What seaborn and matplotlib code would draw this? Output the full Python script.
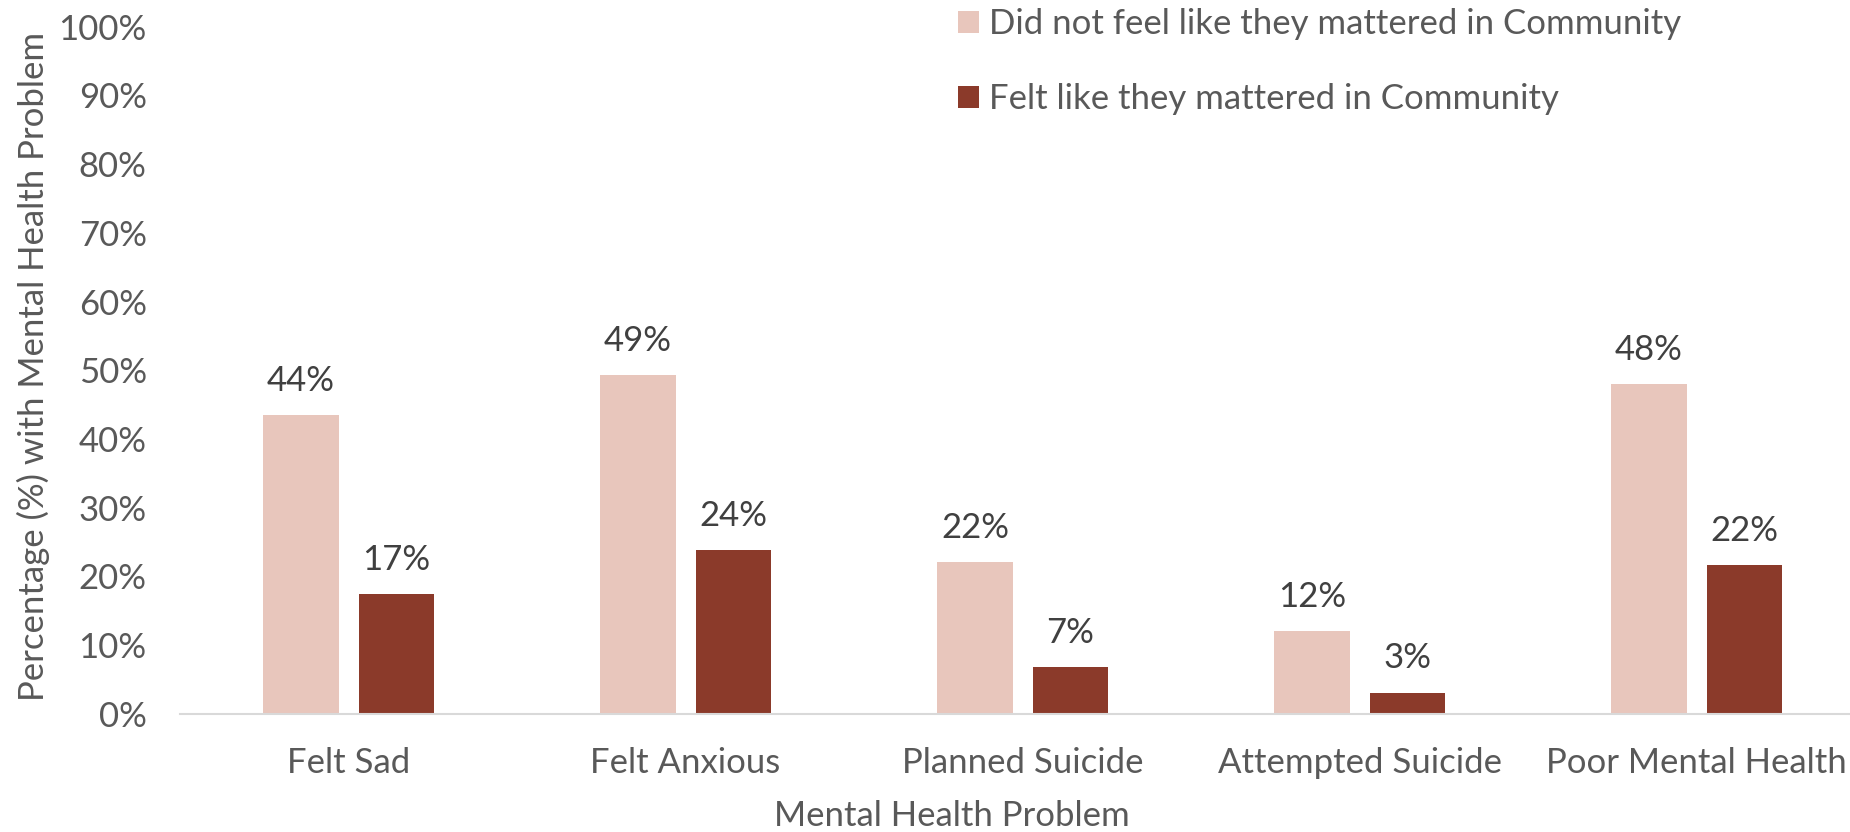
import matplotlib
matplotlib.use("Agg")
import matplotlib.pyplot as plt
import seaborn as sns
import pandas as pd
from matplotlib.patches import Patch

categories = ["Felt Sad", "Felt Anxious", "Planned Suicide", "Attempted Suicide", "Poor Mental Health"]
series_names = ["Did not feel like they mattered in Community", "Felt like they mattered in Community"]
not_mattered = [43.5, 49.3, 22.1, 12.1, 48.0]
mattered = [17.4, 23.9, 6.8, 3.1, 21.6]
labels_not = ["44%", "49%", "22%", "12%", "48%"]
labels_mat = ["17%", "24%", "7%", "3%", "22%"]
yticks = [0, 10, 20, 30, 40, 50, 60, 70, 80, 90, 100]
colors = ["#E8C6BC", "#8B3A2A"]

sns.set_theme(style="white")
plt.rcParams["font.family"] = ["Lato", "DejaVu Sans"]

df = pd.DataFrame({
    "cat": categories * 2,
    "series": [series_names[0]] * 5 + [series_names[1]] * 5,
    "val": not_mattered + mattered,
})

fig = plt.figure(figsize=(18.5, 8.32), dpi=100)
ax = fig.add_axes([0.0973, 0.142, 0.911, 0.826])
sns.barplot(data=df, x="cat", y="val", hue="series", order=categories,
            hue_order=series_names, palette=colors, width=0.567, gap=0.21,
            saturation=1, ax=ax, legend=False, edgecolor="none")

for cont, labs in zip(ax.containers, [labels_not, labels_mat]):
    ax.bar_label(cont, labels=labs, padding=13, fontsize=25, color="#404040")

ax.set_xlim(-0.5, 4.5)
ax.set_ylim(0, 100)
ax.set_yticks(yticks)
ax.set_yticklabels([f"{v}%" for v in yticks])
ax.tick_params(axis="y", length=0, pad=24, labelsize=25, labelcolor="#595959")
ax.tick_params(axis="x", length=0, pad=24, labelsize=25, labelcolor="#595959")
for s in ["top", "right", "left"]:
    ax.spines[s].set_visible(False)
ax.spines["bottom"].set_color("#D9D9D9")
ax.spines["bottom"].set_linewidth(1.5)

ax.set_xlabel("Mental Health Problem", fontsize=25, color="#595959")
ax.xaxis.set_label_coords(0.458, -0.125)
ax.set_ylabel("Percentage (%) with Mental Health Problem", fontsize=25, color="#595959")
ax.yaxis.set_label_coords(-0.077, 0.505)

handles = [Patch(facecolor=c, edgecolor="none") for c in colors]
fig.legend(handles, series_names, loc="upper left", bbox_to_anchor=(958 / 1850, 1 - 8 / 832),
           frameon=False, fontsize=25, handlelength=0.6, handleheight=0.6,
           handletextpad=0.3, labelspacing=1.25, borderpad=0, borderaxespad=0,
           labelcolor="#595959")

fig.savefig("out.png", dpi=100)
